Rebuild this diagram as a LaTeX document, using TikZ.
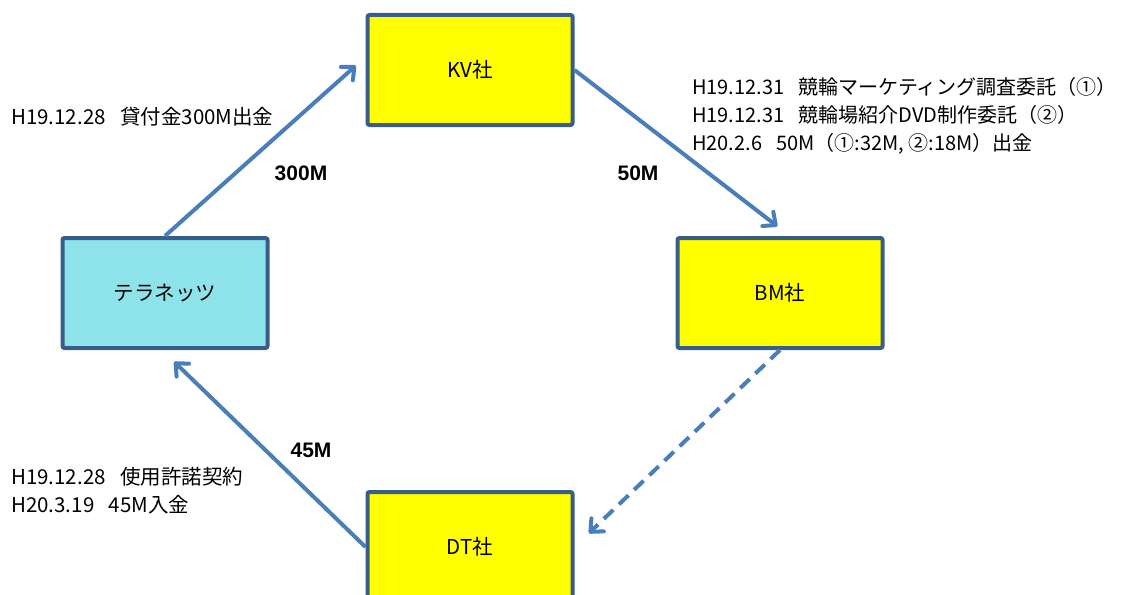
\documentclass[tikz,border=0pt]{standalone}
\usepackage{fontspec}
\setmainfont{Noto Sans CJK JP}
\newfontfamily\amountfont{Liberation Sans}
\usetikzlibrary{arrows.meta,positioning}

\definecolor{linkblue}{RGB}{74,126,187}
\definecolor{boxedge}{RGB}{56,93,138}
\definecolor{tncyan}{RGB}{141,227,233}
\definecolor{boxyellow}{RGB}{255,255,0}
\newcommand{\dategap}{\hspace{0.7em}}

\begin{document}
\begin{tikzpicture}[x=1pt,y=-1pt,>={Straight Barb[length=10pt,width=18pt,round]},
	font=\fontsize{20.5pt}{28pt}\selectfont]
	\tikzstyle{company}=[draw=boxedge,line width=4pt,fill=boxyellow,rounded corners=2pt,
		minimum width=205pt,minimum height=110pt,inner sep=0pt]
	\tikzstyle{link}=[->,draw=linkblue,line width=4pt]
	\tikzstyle{amount}=[font=\amountfont\bfseries\fontsize{21pt}{24pt}\selectfont]
	\tikzstyle{memo}=[anchor=west,align=left,inner sep=0pt]

	\useasboundingbox (0,0) rectangle (1123,594);
	\clip (0,0) rectangle (1123,594);

	\node[company,fill=tncyan] (TN) at (165,293) {テラネッツ};
	\node[company] (KV) at (470,70) {KV社};
	\node[company] (BM) [right=406pt of TN] {BM社};
	\node[company] (DT) [below=363pt of KV] {DT社};

	\path (TN.north) edge[link,shorten >=13pt] ([yshift=13pt]KV.west);
	\path (KV.east) edge[link,shorten >=16pt] ([xshift=10pt]BM.north);
	\path (BM.south) edge[link,dash pattern=on 13pt off 8pt,shorten >=20pt] (DT.east);
	\path (DT.west) edge[link,shorten >=17pt] ([xshift=-3pt]TN.south);

	\node[amount] (a300) at (301,173) {300M};
	\node[amount] (a50) at (638,173) {50M};
	\node[amount] (a45) at (311,450) {45M};

	\node[memo] (loan) at (11,117) {H19.12.28\dategap 貸付金300M出金};
	\node[memo,font=\fontsize{20pt}{28pt}\selectfont] (order) at (692,116)
		{H19.12.31\dategap 競輪マーケティング調査委託（①）\\
		H19.12.31\dategap 競輪場紹介DVD制作委託（②）\\
		H20.2.6\dategap 50M（①:32M, ②:18M）出金};
	\node[memo] (license) at (11,491) {H19.12.28\dategap 使用許諾契約\\
		H20.3.19\dategap 45M入金};
\end{tikzpicture}
\end{document}
